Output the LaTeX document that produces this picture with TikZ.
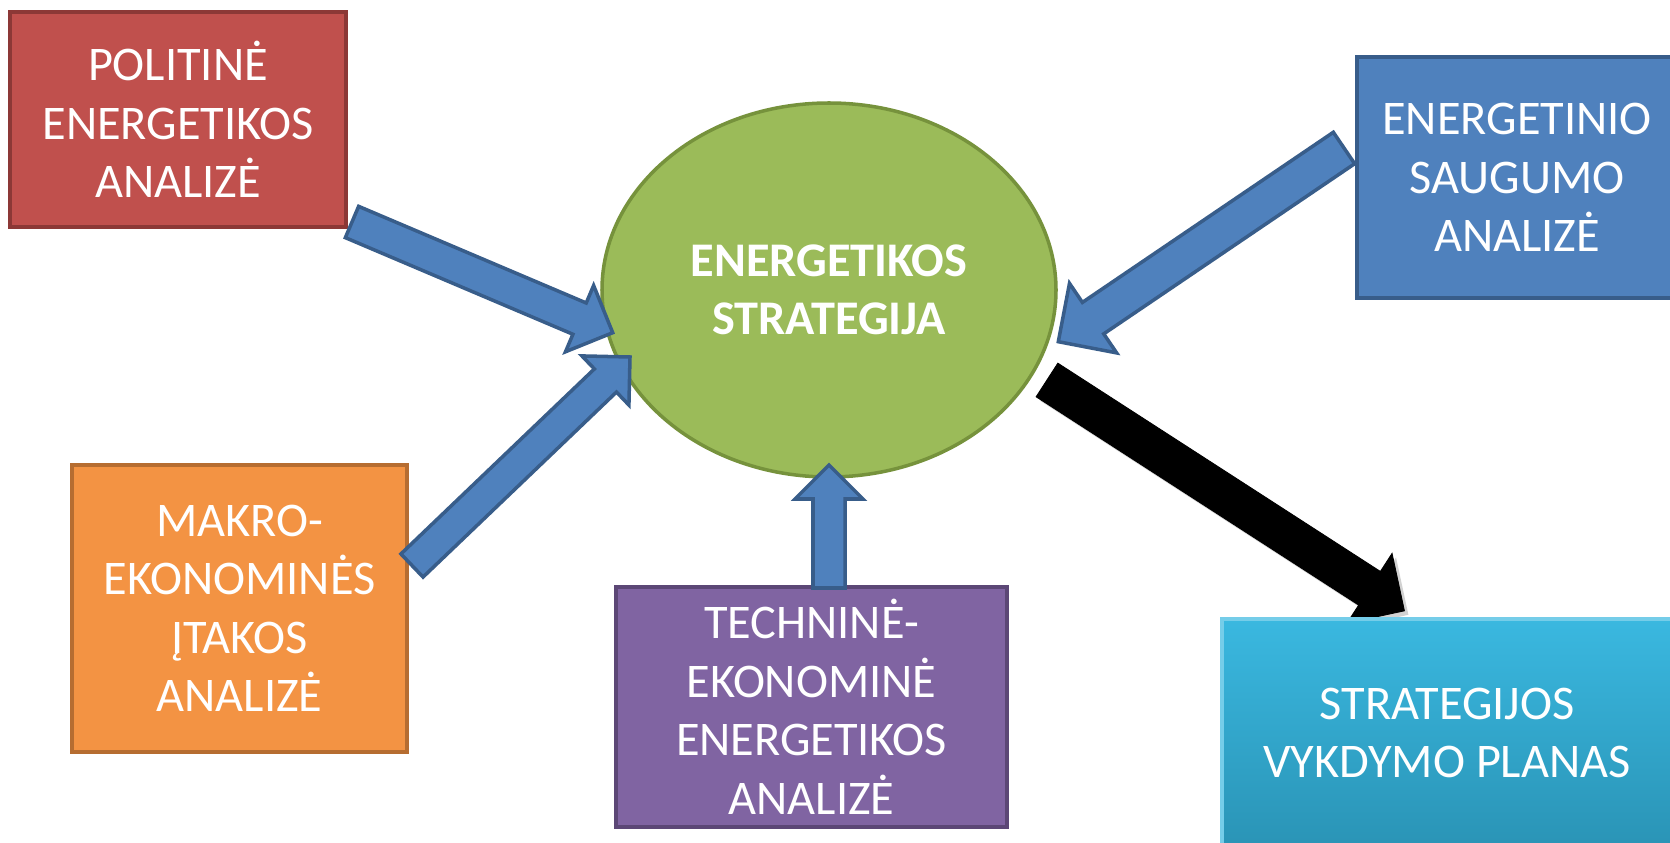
\documentclass[tikz,border=0pt]{standalone}
\usepackage{fontspec}
\setmainfont{Carlito}
\usepackage{xcolor}
\usepackage{tikz}
\usetikzlibrary{positioning,calc,shapes.geometric}
\definecolor{polred}{RGB}{192,80,77}
\definecolor{polredline}{RGB}{140,56,54}
\definecolor{secblue}{RGB}{79,129,189}
\definecolor{secblueline}{RGB}{56,93,138}
\definecolor{makorange}{RGB}{243,147,67}
\definecolor{makorangeline}{RGB}{182,109,49}
\definecolor{techpurple}{RGB}{128,100,162}
\definecolor{techpurpleline}{RGB}{92,71,118}
\definecolor{stratgreen}{RGB}{155,187,89}
\definecolor{stratgreenline}{RGB}{118,146,60}
\definecolor{plantop}{RGB}{58,184,224}
\definecolor{planbot}{RGB}{42,148,182}

% wide arrow: style, tail, tip, half shaft width, half head width
\newcommand{\blockarrow}[5]{%
  \coordinate (bh) at ($(#3)!#5!(#2)$);
  \filldraw[#1] ($(#2)!#4!90:(#3)$) -- ($(bh)!#4!90:(#3)$)
    -- ($(bh)!#5!90:(#3)$) -- (#3) -- ($(bh)!#5!-90:(#3)$)
    -- ($(bh)!#4!-90:(#3)$) -- ($(#2)!#4!-90:(#3)$) -- cycle;}

\begin{document}
\begin{tikzpicture}[x=0.2mm, y=0.2mm,
        box/.style={rectangle, line width=2pt, text=white, align=center,
                    inner sep=0pt, font=\fontsize{27.5}{33.3}\selectfont},
        goal/.style={ellipse, draw=stratgreenline, fill=stratgreen, line width=2pt,
                    minimum width=90.8mm, minimum height=74.8mm, inner sep=0pt,
                    text=white, align=center, font=\fontsize{27.5}{33.3}\selectfont\bfseries},
        inarrow/.style={fill=secblue, draw=secblueline, line width=2pt},
        outarrow/.style={fill=black, draw=black, line width=0.5pt}
      ]
        \useasboundingbox (0,0) rectangle (1670,842);
        \clip (0,0) rectangle (1670,842);
        \node[goal] at (829,552) (strat) {ENERGETIKOS\\STRATEGIJA};
        \node[box, fill=polred, draw=polredline, minimum width=67.2mm, minimum height=43mm]
              at (178,722.5) (pol) {POLITINĖ\\ENERGETIKOS\\ANALIZĖ};
        \node[box, fill=secblue, draw=secblueline, minimum width=64mm, minimum height=48.2mm]
              at (1517,664.5) (saug) {ENERGETINIO\\SAUGUMO\\ANALIZĖ};
        \node[box, fill=makorange, draw=makorangeline, minimum width=67mm, minimum height=57.4mm]
              at (239.5,233.5) (makro) {MAKRO-\\EKONOMINĖS\\ĮTAKOS\\ANALIZĖ};
        \node[box, fill=techpurple, draw=techpurpleline, minimum width=78.2mm, minimum height=48mm]
              at (811.5,135) (tech) {TECHNINĖ-\\EKONOMINĖ\\ENERGETIKOS\\ANALIZĖ};
        % arrow ends
        \coordinate (polOut) at (352,620);
        \coordinate (polIn) at (612.7,509.3);
        \coordinate (makroOut) at (412,276.5);
        \coordinate (makroIn) at (630,485);
        \coordinate (saugOut) at (1344,694);
        \coordinate (saugIn) at (1058.3,500.3);
        \coordinate (techOut) at (829,254);
        \coordinate (techIn) at (829,377);
        \coordinate (stratOut) at (1047,462);
        \coordinate (planIn) at (1404.4,231.2);
        % analyses into the strategy
        \blockarrow{inarrow}{polOut}{polIn}{3.4mm}{7.2mm}
        \blockarrow{inarrow}{makroOut}{makroIn}{3.2mm}{6.8mm}
        \blockarrow{inarrow}{saugOut}{saugIn}{3.8mm}{8.4mm}
        \blockarrow{inarrow}{techOut}{techIn}{3.2mm}{6.8mm}
        % strategy to plan (black, with shadow)
        \begin{scope}[transform canvas={shift={(4,-4)}}]
          \blockarrow{fill=black!35, draw=none, opacity=.5}{stratOut}{planIn}{4mm}{8.3mm}
        \end{scope}
        \blockarrow{outarrow}{stratOut}{planIn}{4mm}{8.3mm}
        \node[box, top color=plantop, bottom color=planbot, draw=plantop!70!white,
              minimum width=90mm, minimum height=45.6mm]
              at (1447,109) (plan) {STRATEGIJOS\\VYKDYMO PLANAS};
      \end{tikzpicture}
\end{document}
